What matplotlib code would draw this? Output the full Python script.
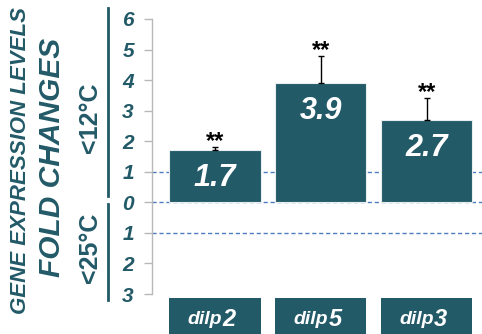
import numpy as np
import matplotlib.pyplot as plt
from matplotlib.patches import Rectangle
from matplotlib import transforms

plt.rcParams['font.family'] = ['Liberation Sans', 'DejaVu Sans']

genes = ['dilp', 'dilp', 'dilp']
gene_nums = ['2', '5', '3']
fold = [1.7, 3.9, 2.7]
err = [0.1, 0.9, 0.7]
stars = ['**', '**', '**']
yticks = [-3, -2, -1, 0, 1, 2, 3, 4, 5, 6]

teal = '#235a68'
W, H = 482, 334

fig = plt.figure(figsize=(W / 100, H / 100), dpi=100)
ax = fig.add_axes([152 / W, 40 / H, 330 / W, 275 / H])

x = np.arange(len(fold))

# reference lines sit behind the bars
for yl in [1, 0, -1]:
    ax.axhline(yl, color='#4f7cc0', lw=1, ls=(0, (3, 2)), zorder=1)

ax.bar(x, fold, width=0.86, color=teal, edgecolor='#e8eef0', lw=0.8, zorder=2)
ax.errorbar(x, fold, yerr=[np.zeros(len(err)), err], fmt='none',
            ecolor='black', elinewidth=1, capsize=2.5, capthick=1, zorder=3)

for xi, v, e, s in zip(x, fold, err, stars):
    ax.annotate(f'{v}', (xi, v), xytext=(0, -20), textcoords='offset points',
                ha='center', va='center', color='white', fontsize=22,
                fontweight='bold', fontstyle='italic', zorder=4)
    ax.annotate(s, (xi, v + e), xytext=(0, 4), textcoords='offset points',
                ha='center', va='center', color='black', fontsize=17,
                fontweight='bold', zorder=4)

ax.set_xlim(-0.594, 2.52)
ax.set_ylim(-3, 6)
ax.set_yticks(yticks)
ax.set_yticklabels([str(abs(t)) for t in yticks], fontsize=15,
                   fontweight='bold', fontstyle='italic', color=teal)
ax.tick_params(axis='y', direction='out', length=6, color='#b8b8b8',
               width=1, pad=7)
ax.set_xticks([])
for side in ['top', 'right', 'bottom']:
    ax.spines[side].set_visible(False)
ax.spines['left'].set_color('#b8b8b8')
ax.spines['left'].set_linewidth(1)
ax.patch.set_alpha(0)

# gene name boxes under the bars
trans = transforms.blended_transform_factory(ax.transData, fig.transFigure)
for xi, g, n in zip(x, genes, gene_nums):
    fig.add_artist(Rectangle((xi - 0.43, 0), 0.86, 36 / H, transform=trans,
                             facecolor=teal, edgecolor='none'))
    fig.text(xi + 0.07, 14 / H, g, transform=trans, ha='right', va='center',
             color='white', fontsize=14, fontweight='bold', fontstyle='italic')
    fig.text(xi + 0.07, 15 / H, n, transform=trans, ha='left', va='center',
             color='white', fontsize=17, fontweight='bold', fontstyle='italic')

# y-axis titles on the left
fig.text(21 / W, 1 - 160 / H, 'GENE EXPRESSION LEVELS', rotation=90,
         ha='center', va='center', color=teal, fontsize=16,
         fontweight='bold', fontstyle='italic')
fig.text(52 / W, 1 - 157 / H, 'FOLD CHANGES', rotation=90, ha='center',
         va='center', color=teal, fontsize=21.5, fontweight='bold',
         fontstyle='italic')
fig.text(90 / W, 1 - 118 / H, '<12°C', rotation=90, ha='center', va='center',
         color=teal, fontsize=18, fontweight='bold')
fig.text(90 / W, 1 - 248 / H, '<25°C', rotation=90, ha='center', va='center',
         color=teal, fontsize=18, fontweight='bold')
fig.add_artist(plt.Line2D([108 / W, 108 / W], [1 - 8 / H, 1 - 196 / H],
                          color=teal, lw=2))
fig.add_artist(plt.Line2D([108 / W, 108 / W], [1 - 204 / H, 1 - 300 / H],
                          color=teal, lw=2))

fig.savefig('out.png', dpi=100)
